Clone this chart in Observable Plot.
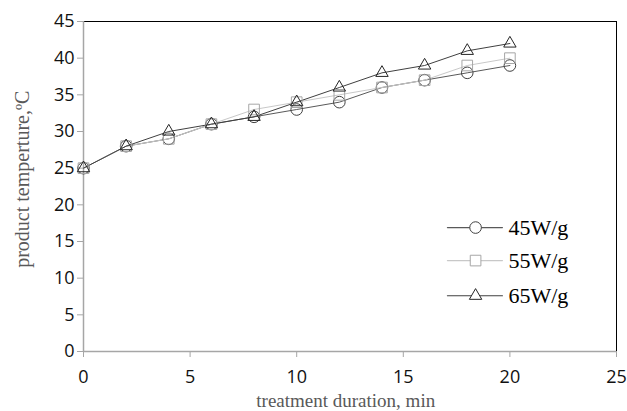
<!DOCTYPE html>
<html>
<head>
<meta charset="utf-8">
<script src="https://cdn.jsdelivr.net/npm/d3@7"></script>
<script src="https://cdn.jsdelivr.net/npm/@observablehq/plot@0.6"></script>
<style>
  html, body { margin: 0; padding: 0; background: #fff; }
</style>
</head>
<body>
<div id="chart"></div>
<script>
const minutes = [0, 2, 4, 6, 8, 10, 12, 14, 16, 18, 20];
const w45 = [25, 28, 29, 31, 32, 33, 34, 36, 37, 38, 39];
const w55 = [25, 28, 29, 31, 33, 34, 35, 36, 37, 39, 40];
const w65 = [25, 28, 30, 31, 32, 34, 36, 38, 39, 41, 42];
const seriesNames = ["45W/g", "55W/g", "65W/g"];
const xTicks = [0, 5, 10, 15, 20, 25];
const yTicks = [0, 5, 10, 15, 20, 25, 30, 35, 40, 45];
const xTitle = "treatment duration, min";
const yTitle = "product temperture,ºC";

const styles = [
  {symbol: "circle", line: "#595959", mark: "#404040", r: 5.8},
  {symbol: "square", line: "#c8c8c8", mark: "#a6a6a6", r: 6},
  {symbol: "triangle", line: "#404040", mark: "#262626", r: 4.6}
];
const values = [w45, w55, w65];
const data = seriesNames.map((name, i) =>
  minutes.map((m, j) => ({name, x: m, y: values[i][j]})));

// legend placement (data units, inside plot)
const legY = [16.9, 12.4, 7.6];
const legX0 = 17.07, legX1 = 19.65, legXm = 18.39, legXt = 19.93;

const marks = [
  Plot.ruleY([45], {stroke: "#000", strokeWidth: 1}),
  Plot.ruleX([25], {stroke: "#000", strokeWidth: 1}),
  Plot.axisY({ticks: yTicks, tickSize: 6, tickPadding: 3, stroke: "#a6a6a6",
    fontSize: 18, fontFamily: "Open Sans, sans-serif", fill: "#111", label: null}),
  Plot.axisX({ticks: xTicks, tickSize: 6, tickPadding: 13, stroke: "#a6a6a6",
    fontSize: 18, fontFamily: "Open Sans, sans-serif", fill: "#111", label: null}),
  Plot.ruleX([0], {stroke: "#a6a6a6", strokeWidth: 1.5}),
  Plot.ruleY([0], {stroke: "#a6a6a6", strokeWidth: 1.5}),
  Plot.text([xTitle], {x: [12.3], y: [0], dy: 49, fontSize: 19,
    fontFamily: "Liberation Serif, serif", fill: "#595959"}),
  Plot.text([yTitle], {x: [0], y: [23.5], dx: -61, rotate: -90, fontSize: 20,
    fontFamily: "Liberation Serif, serif", fill: "#595959"})
];

data.forEach((d, i) => {
  const s = styles[i];
  marks.push(Plot.line(d, {x: "x", y: "y", stroke: s.line, strokeWidth: 1}));
});
data.forEach((d, i) => {
  const s = styles[i];
  marks.push(Plot.dot(d, {x: "x", y: "y", symbol: () => s.symbol, r: s.r,
    stroke: s.mark, fill: "none", strokeWidth: 1}));
});
seriesNames.forEach((name, i) => {
  const s = styles[i];
  marks.push(Plot.line([{x: legX0, y: legY[i]}, {x: legX1, y: legY[i]}],
    {x: "x", y: "y", stroke: s.line, strokeWidth: 1.2}));
  marks.push(Plot.dot([{x: legXm, y: legY[i]}], {x: "x", y: "y",
    symbol: () => s.symbol, r: s.r, stroke: s.mark, fill: "#fff", strokeWidth: 1}));
  marks.push(Plot.text([{x: legXt, y: legY[i], t: name}], {x: "x", y: "y", text: "t",
    textAnchor: "start", fontSize: 22, fontFamily: "Liberation Serif, serif", fill: "#000"}));
});

const chart = Plot.plot({
  width: 627,
  height: 411,
  marginLeft: 83,
  marginRight: 11,
  marginTop: 21,
  marginBottom: 60,
  x: {domain: [0, 25]},
  y: {domain: [0, 45]},
  symbol: {type: "identity"},
  style: {background: "#fff", overflow: "visible"},
  marks
});
document.getElementById("chart").appendChild(chart);
</script>
</body>
</html>
